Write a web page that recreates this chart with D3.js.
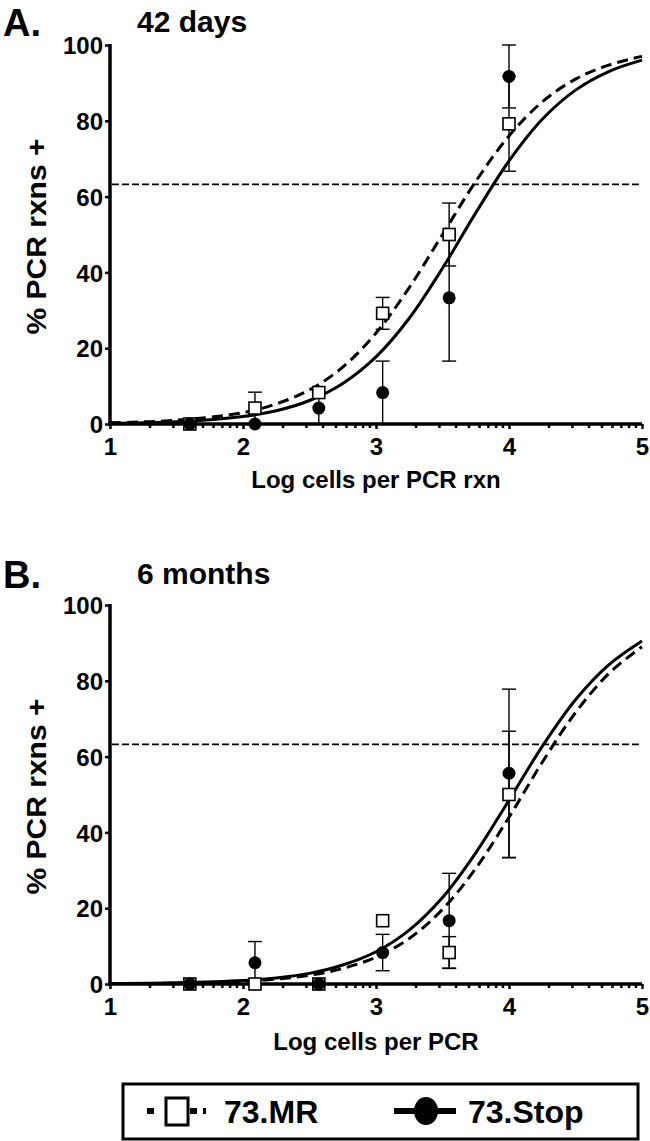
<!DOCTYPE html>
<html><head><meta charset="utf-8">
<script src="https://cdn.jsdelivr.net/npm/d3@7"></script>
<style>
body{margin:0;background:#fff;}
svg text{font-family:"Liberation Sans",Arial,sans-serif;font-weight:bold;fill:#000;}
</style></head>
<body><svg id="c" width="650" height="1141"></svg>
<script>
// ---- data ----
const xTicks = [1, 2, 3, 4, 5];
const yTicks = [0, 20, 40, 60, 80, 100];
const doseX = [1.6, 2.09, 2.57, 3.05, 3.55, 4.0];
const thresholdPct = 63.2;

// Panel A: 42 days
const aMR = [0, 4.2, 8.3, 29.2, 50, 79.2];
const aMRerr = [0, 4.2, 0, 4.2, 8.3, 12.5];
const aStop = [0, 0, 4.2, 8.3, 33.3, 91.7];
const aStopErr = [0, 0, 4.2, 8.3, 16.7, 8.3];

// Panel B: 6 months
const bMR = [0, 0, 0, 16.7, 8.3, 50];
const bMRerr = [0, 0, 0, 0, 4.2, 16.7];
const bStop = [0, 5.6, 0, 8.3, 16.7, 55.6];
const bStopErr = [0, 5.6, 0, 4.8, 12.5, 22.2];

// fitted curves
const curveX = [1, 1.5, 2, 2.25, 2.5, 2.75, 3, 3.25, 3.5, 3.75, 4, 4.25, 4.5, 4.75, 5];
const aMRcurve   = [0.3, 1.0, 3.0, 5.3, 9.0, 15.0, 24.0, 36.0, 50.0, 64.0, 76.0, 85.0, 91.0, 94.7, 97.0];
const aStopCurve = [0.2, 0.6, 2.0, 3.5, 6.2, 10.7, 17.7, 27.9, 41.1, 55.7, 69.4, 80.4, 88.1, 93.0, 96.0];
const bMRcurve   = [0.1, 0.2, 0.7, 1.3, 2.3, 4.1, 7.1, 12.0, 19.7, 30.5, 44.0, 58.5, 71.6, 81.9, 89.0];
const bStopCurve = [0.1, 0.3, 0.9, 1.6, 2.8, 5.0, 8.5, 14.2, 22.8, 34.6, 48.5, 62.7, 75.0, 84.2, 90.5];

const panels = [
  {letter: "A.", title: "42 days", xTitle: "Log cells per PCR rxn", top: 45, bottom: 424,
   mr: aMR, mrErr: aMRerr, stop: aStop, stopErr: aStopErr, mrCurve: aMRcurve, stopCurve: aStopCurve,
   letterY: 36, titleY: 32, xTitleY: 488},
  {letter: "B.", title: "6 months", xTitle: "Log cells per PCR", top: 605, bottom: 984,
   mr: bMR, mrErr: bMRerr, stop: bStop, stopErr: bStopErr, mrCurve: bMRcurve, stopCurve: bStopCurve,
   letterY: 588, titleY: 584, xTitleY: 1050}
];

const svg = d3.select("#c");
const left = 110, right = 642;

panels.forEach(p => {
  const x = d3.scaleLinear().domain([1, 5]).range([left, right]);
  const y = d3.scaleLinear().domain([0, 100]).range([p.bottom, p.top]);
  const g = svg.append("g");

  g.append("text").attr("x", 3).attr("y", p.letterY).attr("font-size", 38).text(p.letter);
  g.append("text").attr("x", 137).attr("y", p.titleY).attr("font-size", 30).text(p.title);

  // y axis
  const ya = g.append("g").attr("transform", `translate(${left},0)`)
    .call(d3.axisLeft(y).tickValues(yTicks).tickFormat(d3.format("d")).tickSize(5).tickPadding(2));
  ya.select(".domain").attr("stroke-width", 3.5).attr("d", `M0,${p.top-1}V${p.bottom+1.5}`);
  ya.selectAll(".tick line").attr("stroke-width", 2.5);
  ya.selectAll(".tick text").attr("font-size", 24).attr("dy", "0.36em");

  // x axis
  const minor = [];
  for (let n = 1; n < 5; n++) for (let m = 2; m <= 9; m++) minor.push(n + Math.log10(m));
  const xa = g.append("g").attr("transform", `translate(0,${p.bottom})`)
    .call(d3.axisBottom(x).tickValues(xTicks).tickFormat(d3.format("d")).tickSize(5).tickPadding(9));
  xa.select(".domain").attr("stroke-width", 3.5).attr("d", `M${left-2},0H${right}`);
  xa.selectAll(".tick line").attr("stroke-width", 2.5);
  xa.selectAll(".tick text").attr("font-size", 24);
  g.append("g").selectAll("line").data(minor).join("line")
    .attr("x1", d => x(d)).attr("x2", d => x(d)).attr("y1", p.bottom).attr("y2", p.bottom + 4)
    .attr("stroke", "#000").attr("stroke-width", 2.5);

  g.append("text").attr("x", (left + right) / 2).attr("y", p.xTitleY).attr("text-anchor", "middle")
    .attr("font-size", 24).text(p.xTitle);
  g.append("text").attr("transform", `translate(46,${(p.top + p.bottom) / 2 + 2}) rotate(-90)`)
    .attr("text-anchor", "middle").attr("font-size", 27)
    .attr("textLength", 196).attr("lengthAdjust", "spacingAndGlyphs").text("% PCR rxns +");

  // threshold line
  g.append("line").attr("x1", left + 2).attr("x2", right).attr("y1", y(thresholdPct)).attr("y2", y(thresholdPct))
    .attr("stroke", "#000").attr("stroke-width", 1.8).attr("stroke-dasharray", "7,3");

  // curves
  const line = d3.line().x((d, i) => x(curveX[i])).y(d => y(d)).curve(d3.curveCatmullRom);
  g.append("path").attr("d", line(p.stopCurve)).attr("fill", "none").attr("stroke", "#000").attr("stroke-width", 3);
  g.append("path").attr("d", line(p.mrCurve)).attr("fill", "none").attr("stroke", "#000").attr("stroke-width", 3)
    .attr("stroke-dasharray", "11,6");

  // error bars
  const eb = (vals, errs) => {
    vals.forEach((v, i) => {
      const e = errs[i];
      if (!e) return;
      const cx = x(doseX[i]);
      const lo = Math.max(0, v - e), hi = Math.min(100, v + e);
      g.append("line").attr("x1", cx).attr("x2", cx).attr("y1", y(lo)).attr("y2", y(hi)).attr("stroke", "#000").attr("stroke-width", 1.4);
      [lo, hi].forEach(t => {
        if (t === 0) return;
        g.append("line").attr("x1", cx - 7).attr("x2", cx + 7).attr("y1", y(t)).attr("y2", y(t)).attr("stroke", "#000").attr("stroke-width", 1.4);
      });
    });
  };
  eb(p.stop, p.stopErr);
  eb(p.mr, p.mrErr);

  // markers
  g.append("g").selectAll("rect").data(p.mr).join("rect")
    .attr("x", (d, i) => x(doseX[i]) - 6).attr("y", d => y(d) - 6).attr("width", 12).attr("height", 12)
    .attr("fill", "#fff").attr("stroke", "#000").attr("stroke-width", 1.6);
  g.append("g").selectAll("circle").data(p.stop).join("circle")
    .attr("cx", (d, i) => x(doseX[i])).attr("cy", d => y(d)).attr("r", 6.5).attr("fill", "#000");
});

// legend
const lg = svg.append("g");
lg.append("rect").attr("x", 123).attr("y", 1084).attr("width", 515).attr("height", 55)
  .attr("fill", "#fff").attr("stroke", "#000").attr("stroke-width", 3);
lg.append("line").attr("x1", 147).attr("x2", 213).attr("y1", 1111).attr("y2", 1111)
  .attr("stroke", "#000").attr("stroke-width", 6).attr("stroke-dasharray", "7,11,20,5,7,6,3,10");
lg.append("rect").attr("x", 166).attr("y", 1098).attr("width", 22).attr("height", 27)
  .attr("fill", "#fff").attr("stroke", "#000").attr("stroke-width", 3);
lg.append("text").attr("x", 224).attr("y", 1123).attr("font-size", 32).text("73.MR");
lg.append("line").attr("x1", 394).attr("x2", 456).attr("y1", 1111).attr("y2", 1111)
  .attr("stroke", "#000").attr("stroke-width", 6);
lg.append("ellipse").attr("cx", 426).attr("cy", 1111).attr("rx", 12).attr("ry", 14).attr("fill", "#000");
lg.append("text").attr("x", 468).attr("y", 1123).attr("font-size", 32).text("73.Stop");
</script></body></html>
